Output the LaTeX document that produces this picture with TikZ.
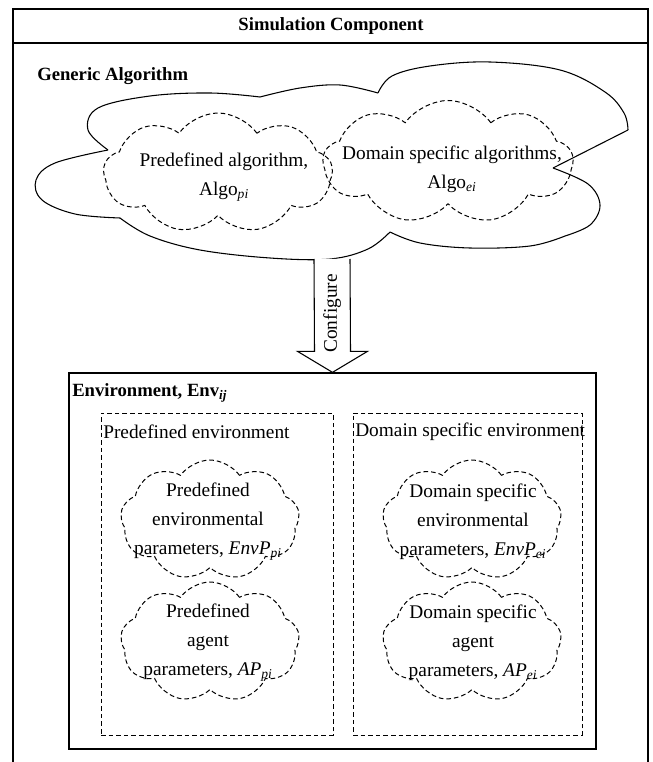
\documentclass[tikz,border=0pt]{standalone}
\usepackage{fontspec}
\setmainfont{Liberation Serif}
\usetikzlibrary{shapes.symbols,calc}
\newcommand{\subit}[1]{\textsubscript{\textit{#1}}}

\begin{document}
\begin{tikzpicture}[x=0.75pt, y=-0.75pt,
	every node/.style={font=\fontsize{14.5}{21.75}\selectfont},
	head/.style={font=\fontsize{14}{16}\selectfont\bfseries},
	dashline/.style={dash pattern=on 3.5pt off 2.2pt, line width=0.75pt},
	puff/.style={cloud, cloud puffs=9, cloud puff arc=110, cloud ignores aspect, draw, dashline, inner sep=0pt},
	txt/.style={align=center, inner sep=0pt},
	envbox/.style={draw, dashline, rectangle, inner sep=0pt},
	rim/.style={line width=0.8pt, smooth, tension=0.6}]
	\useasboundingbox (0,0) rectangle (652,762);
	\draw[line width=1pt] (13,762) -- (13,9) -- (648,9) -- (648,762);
	\draw[line width=0.8pt] (13,43) -- (648,43);
	\node[head] (title) at (331,26) {Simulation Component};
	\node[head, anchor=west, inner sep=0pt] (gen) at (37,76) {Generic Algorithm};
	% outline of the generic algorithm cloud
	\draw[rim] plot coordinates {(108,150) (88,130) (98,108) (150,96) (210,93) (260,97)};
	\draw[rim] plot coordinates {(260,97) (300,88) (340,85) (378,93)};
	\draw[rim] plot coordinates {(378,93) (392,76) (430,66) (490,62) (560,70) (605,92) (624,113) (628,130)};
	\draw[rim] (628,130) -- (553,168);
	\draw[rim] plot coordinates {(553,168) (588,184) (600,205) (590,225) (565,236)};
	\draw[rim] plot coordinates {(565,236) (530,246) (470,248) (420,243) (390,232)};
	\draw[rim] plot coordinates {(390,232) (368,249) (330,259) (270,258) (200,250) (150,236) (120,218)};
	\draw[rim] plot coordinates {(120,218) (75,214) (42,200) (36,180) (55,163) (108,150)};
	\coordinate (algbot) at (332,259);
	\node[puff, minimum width=171.75pt, minimum height=90pt] (palgo) at (218,173) {};
	\node[puff, minimum width=187.5pt, minimum height=92.25pt] (dalgo) at (448,162) {};
	\node[txt] (palgotxt) at (224,177) {Predefined algorithm,\\Algo\subit{pi}};
	\node[txt] (dalgotxt) at (452,169) {Domain specific algorithms,\\Algo\subit{ei}};
	\node[draw, line width=1pt, minimum width=395.25pt, minimum height=282pt, inner sep=0pt] (env) at (332.5,561) {};
	\node[head, anchor=west, inner sep=0pt] (envtitle) at (72,393) {Environment, Env\subit{ij}};
	\draw[line width=0.8pt, fill=white] ($(algbot)+(-18,0)$) -- ($(env.north)+(-18,-21)$) -- ($(env.north)+(-35,-21)$) -- (env.north) -- ($(env.north)+(35,-21)$) -- ($(env.north)+(18,-21)$) -- ($(algbot)+(18,0)$);
	\node[rotate=90] (conf) at ($(algbot)!0.48!(env.north)$) {Configure};
	\node[envbox, minimum width=174pt, minimum height=241.5pt] (penv) at (217,574) {};
	\node[envbox, minimum width=171.75pt, minimum height=241.5pt] (denv) at (467.5,574) {};
	\node[anchor=west, inner sep=0pt] (penvtxt) at (103,432) {Predefined environment};
	\node[anchor=west, inner sep=0pt] (denvtxt) at (355,432) {Domain specific environment};
	\node[puff, minimum width=134.25pt, minimum height=90pt] (pep) at (210,520) {};
	\node[puff, minimum width=134.25pt, minimum height=90pt] (pap) at (210,642) {};
	\node[puff, minimum width=134.25pt, minimum height=90pt] (dep) at (472,520) {};
	\node[puff, minimum width=134.25pt, minimum height=90pt] (dap) at (472,642) {};
	\node[txt] (peptxt) at (208,522) {Predefined\\environmental\\parameters, \textit{EnvP}\subit{pi}};
	\node[txt] (paptxt) at (208,643) {Predefined\\agent\\parameters, \textit{AP}\subit{pi}};
	\node[txt] (deptxt) at (473,522) {Domain specific\\environmental\\parameters, \textit{EnvP}\subit{ei}};
	\node[txt] (daptxt) at (473,643) {Domain specific\\agent\\parameters, \textit{AP}\subit{ei}};
\end{tikzpicture}
\end{document}
